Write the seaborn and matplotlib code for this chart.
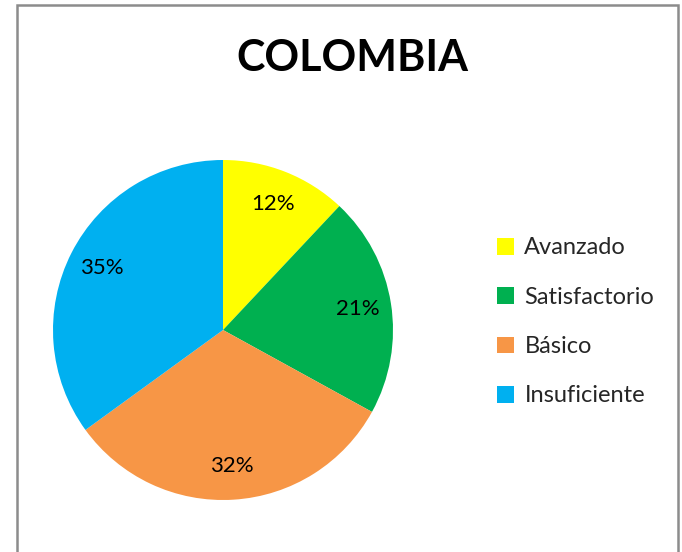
import matplotlib
matplotlib.use("Agg")
import matplotlib.pyplot as plt
from matplotlib.patches import Rectangle
import seaborn as sns

# Datos del gráfico
categorias = ["Avanzado", "Satisfactorio", "Básico", "Insuficiente"]
porcentajes = [12, 21, 32, 35]
colores = ["#FFFF00", "#00B050", "#F79646", "#00B0F0"]
titulo = "COLOMBIA"

sns.set_theme(style="white")
plt.rcParams["font.family"] = ["Lato", "DejaVu Sans"]

W, H = 682, 552
fig = plt.figure(figsize=(W / 100, H / 100), dpi=100)
fig.patch.set_facecolor("white")

# chart frame (Excel-like border)
fig.patches.append(Rectangle((17 / W, -0.05), (678 - 17) / W, (H - 5) / H + 0.05,
                             transform=fig.transFigure, fill=False,
                             edgecolor="#8c8c8c", linewidth=1.8))

# pie axes: center ~ (223, 330), radius ~170 px
cx, cy, r = 223, 330, 170
ax = fig.add_axes([(cx - r) / W, (H - cy - r) / H, 2 * r / W, 2 * r / H])
wedges, textos, autotextos = ax.pie(
    porcentajes, colors=colores, startangle=90, counterclock=False,
    autopct=lambda p: f"{p:.0f}%", pctdistance=0.8,
    wedgeprops=dict(linewidth=0, edgecolor="none"),
    textprops=dict(fontsize=16, color="black"),
)
ax.set_xlim(-1, 1)
ax.set_ylim(-1, 1)
ax.set_aspect("equal")
ax.axis("off")

fig.text(352 / W, 1 - 58 / H, titulo, ha="center", va="center",
         fontsize=31, fontweight="bold", color="black")

fig.legend(wedges, categorias, loc="center left",
           bbox_to_anchor=(476 / W, 1 - 322 / H), frameon=False,
           fontsize=17, handlelength=0.7, handleheight=0.7,
           handletextpad=0.45, labelspacing=1.2)

fig.savefig("out.png", dpi=100, facecolor="white")
